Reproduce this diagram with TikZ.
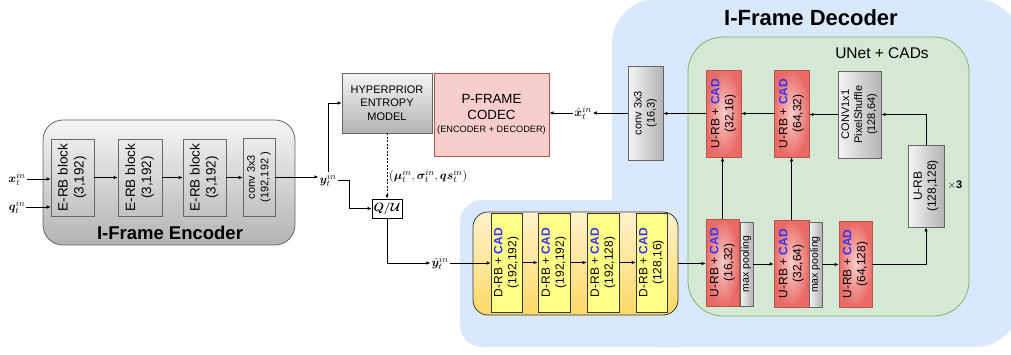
\documentclass[tikz,border=0pt]{standalone}
\usepackage{fontspec}
\setmainfont{Liberation Sans}
\usepackage{amsmath,bm}
\usepackage{graphicx}
\usetikzlibrary{arrows.meta}

\definecolor{decblue}{HTML}{DAE8FC}
\definecolor{unetgreen}{HTML}{D5E8D4}
\definecolor{unetline}{HTML}{82B366}
\definecolor{codecred}{HTML}{F8CECC}
\definecolor{codecline}{HTML}{B85450}
\definecolor{urbred}{HTML}{EA6B66}
\definecolor{drbyellow}{HTML}{FFFF88}
\definecolor{darkline}{HTML}{36393D}
\definecolor{grayline}{HTML}{666666}
\definecolor{graylight}{HTML}{F5F5F5}
\definecolor{graydark}{HTML}{B3B3B3}
\definecolor{orangetop}{HTML}{FFF2CC}
\definecolor{orangebot}{HTML}{FFD966}
\definecolor{cadblue}{HTML}{3333FF}

\newcommand{\vlab}[1]{\rotatebox{90}{\begin{tabular}{@{}c@{}}#1\end{tabular}}}
\newcommand{\cad}{\textcolor{cadblue}{\textbf{CAD}}}

\tikzset{
    blk/.style={draw=grayline, line width=0.6pt, inner sep=0pt},
    erbbox/.style={blk, minimum height=77, font=\fontsize{13.5}{16}\selectfont},
    graybox/.style={blk, left color=graylight, right color=graydark},
    drbbox/.style={draw=darkline, fill=drbyellow, inner sep=0pt, line width=0.6pt,
        minimum width=31, minimum height=99, font=\fontsize{12}{14}\selectfont},
    urbbox/.style={draw=codecline, inner color=codecred, outer color=urbred, inner sep=0pt,
        line width=0.6pt, minimum width=34, minimum height=87, font=\fontsize{12}{14}\selectfont},
    poolbox/.style={graybox, minimum width=13, minimum height=85, font=\fontsize{10.5}{12}\selectfont},
    conn/.style={-{Latex[length=4pt,width=3.5pt]}, line width=0.7pt},
    mathlab/.style={inner sep=1pt, font=\fontsize{13}{15}\selectfont},
}

\begin{document}
\begin{tikzpicture}[x=1pt, y=-1pt]
    \useasboundingbox (0,0) rectangle (1011,354);

    % decoder background
    \fill[decblue, rounded corners=45] (612,-1) rectangle (1020,347);
    \fill[decblue, rounded corners=22] (460,200) rectangle (700,347);

    % groups
    \node[draw=unetline, fill=unetgreen, rounded corners=35, line width=0.8pt,
        minimum width=281, minimum height=279] (unet) at (828.5,176.5) {};
    \node[draw=grayline, top color=graylight, bottom color=graydark, rounded corners=20,
        line width=0.8pt, minimum width=252, minimum height=125] (encgroup) at (169,182.5) {};
    \node[draw=darkline, top color=orangetop, bottom color=orangebot, rounded corners=15,
        line width=0.8pt, minimum width=205, minimum height=103] (drbgroup) at (575.5,263.5) {};

    \node[font=\bfseries\fontsize{18.5}{20}\selectfont] (enctitle) at (170,233) {I-Frame Encoder};
    \node[font=\bfseries\fontsize{22}{24}\selectfont] (dectitle) at (811,18) {I-Frame Decoder};
    \node[font=\fontsize{15.5}{17}\selectfont] (unettitle) at (882,53) {UNet + CADs};

    % encoder
    \node[erbbox, minimum width=43] (erb1) at (72.5,177.5) {\vlab{E-RB block\\(3,192)}};
    \node[erbbox, minimum width=44] (erb2) at (140,177.5) {\vlab{E-RB block\\(3,192)}};
    \node[erbbox, minimum width=43] (erb3) at (204.5,177.5) {\vlab{E-RB block\\(3,192)}};
    \node[erbbox, minimum width=32, minimum height=78, font=\fontsize{11}{13.5}\selectfont]
        (conv) at (259,177) {\vlab{conv 3x3\\(192,192 )}};

    \node[mathlab] (xin) at (17,179) {$\bm{x}_t^{in}$};
    \node[mathlab] (qin) at (17,207) {$\bm{q}_t^{in}$};
    \node[mathlab] (yin) at (328,180) {$\bm{y}_t^{in}$};

    % entropy model and P-frame codec
    \node[blk, top color=graylight, bottom color=graydark, minimum width=90, minimum height=60,
        align=center, font=\fontsize{11}{13.5}\selectfont] (hyp) at (387,103)
        {HYPERPRIOR\\ENTROPY\\MODEL};
    \node[draw=codecline, fill=codecred, line width=0.6pt, minimum width=115, minimum height=83,
        align=center, font=\fontsize{13.3}{16}\selectfont] (pcodec) at (491.5,114.5)
        {P-FRAME\\CODEC\\[-3pt]{\fontsize{9.2}{11}\selectfont (ENCODER + DECODER)}};
    \node[draw, fill=white, line width=0.7pt, minimum width=30, minimum height=19, inner sep=0pt,
        font=\fontsize{13}{15}\selectfont] (qu) at (387,208.5) {$\bm{Q/\mathcal{U}}$};
    \node[mathlab, anchor=west] (theta) at (388,176)
        {$(\bm{\mu}_t^{in},\bm{\sigma}_t^{in},\bm{qs}_t^{in})$};
    \node[mathlab] (yhat) at (440,263) {$\hat{\bm{y}}_t^{in}$};
    \node[mathlab] (xhat) at (583,113) {$\hat{\bm{x}}_t^{in}$};

    % decoder blocks
    \node[drbbox] (drb1) at (506.5,262.5) {\vlab{D-RB + \cad\\(192,192)}};
    \node[drbbox, minimum width=32] (drb2) at (554,262.5) {\vlab{D-RB + \cad\\(192,192)}};
    \node[drbbox, minimum width=32] (drb3) at (603,262.5) {\vlab{D-RB + \cad\\(192,128)}};
    \node[drbbox] (drb4) at (651.5,262.5) {\vlab{D-RB + \cad\\(128,16)}};

    \node[urbbox, minimum width=33] (urb1) at (722.5,262.5) {\vlab{U-RB + \cad\\(16,32)}};
    \node[poolbox, minimum height=84] (pool1) at (746.5,264) {\vlab{max pooling}};
    \node[urbbox, minimum width=35] (urb2) at (791.5,263.5) {\vlab{U-RB + \cad\\(32,64)}};
    \node[poolbox] (pool2) at (815.5,264.5) {\vlab{max pooling}};
    \node[urbbox, minimum width=33, minimum height=86] (urb3) at (855.5,264) {\vlab{U-RB + \cad\\(64,128)}};
    \node[graybox, minimum width=36, minimum height=82, font=\fontsize{12}{14}\selectfont]
        (urb4) at (926,186) {\vlab{U-RB\\(128,128)}};
    \node[font=\fontsize{11}{12}\selectfont, inner sep=1pt] (times) at (955,185) {$\times$\textbf{3}};

    \node[graybox, minimum width=43, minimum height=87, font=\fontsize{11}{13}\selectfont]
        (pconv) at (859.5,114.5) {\vlab{CONV1x1\\PixelShuffle\\(128,64)}};
    \node[urbbox, minimum width=35] (urbt2) at (791.5,113.5) {\vlab{U-RB + \cad\\(64,32)}};
    \node[urbbox, minimum width=35] (urbt1) at (723.5,113.5) {\vlab{U-RB + \cad\\(32,16)}};
    \node[graybox, minimum width=35, minimum height=94, font=\fontsize{11}{13}\selectfont]
        (convout) at (645.5,113) {\vlab{conv 3x3\\(16,3)}};

    % connectors
    \draw[conn] (xin.east) -- (xin.east -| erb1.west);
    \draw[conn] (qin.east) -- (qin.east -| erb1.west);
    \draw[conn] (erb1.east) -- (erb2.west);
    \draw[conn] (erb2.east) -- (erb3.west);
    \draw[conn] (erb3.east) -- (erb3.east -| conv.west);
    \draw[conn] (conv.east) -- (conv.east -| yin.west);
    \draw[conn] (yin.north) |- (hyp.west);
    \draw[conn] (yin.east) -- ++(12,0) |- (qu.west);
    \draw[conn, dash pattern=on 2pt off 1.5pt] (hyp.south) -- (qu.north);
    \draw[conn] (qu.south) |- (yhat.west);
    \draw[conn] (yhat.east) -- (yhat.east -| drb1.west);
    \draw[conn] (drb1.east) -- (drb2.west);
    \draw[conn] (drb2.east) -- (drb3.west);
    \draw[conn] (drb3.east) -- (drb4.west);
    \draw[conn] (drbgroup.east) -- (drbgroup.east -| urb1.west);
    \draw[conn] (pool1.east) -- (pool1.east -| urb2.west);
    \draw[conn] (pool2.east) -- (pool2.east -| urb3.west);
    \draw[conn] (urb3.east) -| (urb4.south);
    \draw[conn] (urb4.north) |- (pconv.east);
    \draw[conn] (pconv.west) -- (pconv.west -| urbt2.east);
    \draw[conn] (urbt2.west) -- (urbt2.west -| urbt1.east);
    \draw[conn] (urbt1.west) -- (urbt1.west -| convout.east);
    \draw[conn] (urb1.north) -- (urb1.north |- urbt1.south);
    \draw[conn] (urb2.north) -- (urb2.north |- urbt2.south);
    \draw[conn] (convout.west) -- (convout.west -| xhat.east);
    \draw[conn] (xhat.west) -- (xhat.west -| pcodec.east);
\end{tikzpicture}
\end{document}
